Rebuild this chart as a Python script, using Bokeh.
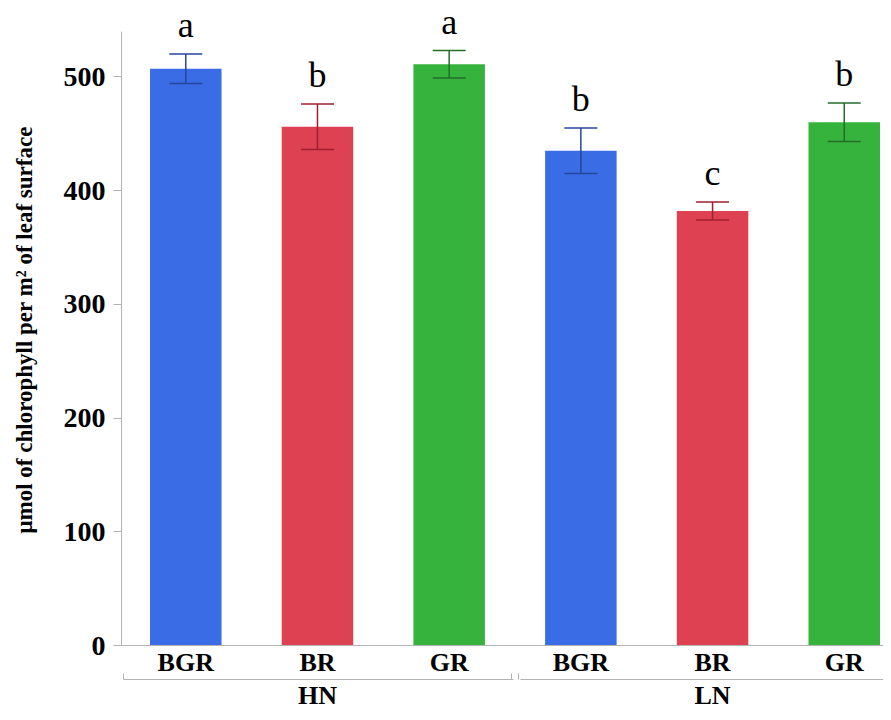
from bokeh.plotting import figure
from bokeh.models import ColumnDataSource, FixedTicker, LinearAxis, Range1d
from bokeh.core.properties import value
from bokeh.embed import file_html
from bokeh.resources import INLINE

# ---- data ----
groups = ["HN", "LN"]
treatments = ["BGR", "BR", "GR", "BGR", "BR", "GR"]
means = [507, 456, 511, 435, 382, 460]
errors = [13, 20, 12, 20, 8, 17]
letters = ["a", "b", "a", "b", "c", "b"]
bar_colors = ["#3a6de5", "#dd4152", "#36b33c", "#3a6de5", "#dd4152", "#36b33c"]
err_colors = ["#26469c", "#a01f30", "#246d2b", "#26469c", "#a01f30", "#246d2b"]
y_ticks = [0, 100, 200, 300, 400, 500]

xs = list(range(len(treatments)))
group_centers = [1, 4]

src = ColumnDataSource(dict(
    x=xs, top=means,
    lo=[m - e for m, e in zip(means, errors)],
    hi=[m + e for m, e in zip(means, errors)],
    letter=letters, color=bar_colors, ecolor=err_colors,
))

SERIF = "Liberation Serif"
AX = "#b3b3b3"

p = figure(width=883, height=712, output_backend="svg", toolbar_location=None,
           x_range=Range1d(-0.488, 5.298), y_range=Range1d(0, 560),
           min_border_left=121, min_border_top=8, min_border_right=0,
           min_border_bottom=60)
p.outline_line_color = None
p.xgrid.visible = False
p.ygrid.visible = False
p.background_fill_color = "white"
p.border_fill_color = "white"

p.vbar(x="x", top="top", bottom=0, width=0.543, color="color", line_color=None, source=src)
p.segment(x0="x", y0="lo", x1="x", y1="hi", line_color="ecolor", line_width=1.5, source=src)
p.scatter(x="x", y="hi", marker="dash", size=33, line_color="ecolor", line_width=1.5, source=src)
p.scatter(x="x", y="lo", marker="dash", size=33, line_color="ecolor", line_width=1.5, source=src)
p.text(x="x", y="hi", text="letter", source=src, text_align="center",
       text_baseline="alphabetic", y_offset=-29,
       text_font=value(SERIF), text_font_size="36px", text_color="black")

# y axis
ya = p.yaxis[0]
ya.ticker = FixedTicker(ticks=y_ticks, minor_ticks=[])
ya.bounds = (0, 540)
ya.axis_line_color = AX
ya.major_tick_line_color = AX
ya.major_tick_out = 8
ya.major_tick_in = 0
ya.minor_tick_line_color = None
ya.major_label_standoff = 8
ya.major_label_text_font = SERIF
ya.major_label_text_font_style = "bold"
ya.major_label_text_font_size = "28px"
ya.major_label_text_color = "black"
ya.axis_label = "\u03bcmol of chlorophyll  per m\u00b2 of leaf surface"
ya.axis_label_text_font = SERIF
ya.axis_label_text_font_style = "bold"
ya.axis_label_text_font_size = "23px"
ya.axis_label_text_color = "black"
ya.axis_label_standoff = 24

# main x axis (treatments)
xa = p.xaxis[0]
xa.ticker = FixedTicker(ticks=xs, minor_ticks=[])
xa.major_label_overrides = {i: t for i, t in zip(xs, treatments)}
xa.axis_line_color = AX
xa.major_tick_line_color = None
xa.major_tick_out = 0
xa.major_tick_in = 0
xa.minor_tick_line_color = None
xa.major_label_standoff = 2
xa.major_label_text_font = SERIF
xa.major_label_text_font_style = "bold"
xa.major_label_text_font_size = "26px"
xa.major_label_text_color = "black"

# group axis (HN / LN bracket)
ga = LinearAxis(ticker=FixedTicker(ticks=group_centers, minor_ticks=[-0.473, 2.47, 2.53]))
ga.bounds = (-0.473, 5.298)
ga.major_label_overrides = {c: g for c, g in zip(group_centers, groups)}
ga.axis_line_color = AX
ga.axis_line_dash = "390 7 1000"
ga.major_tick_line_color = None
ga.minor_tick_line_color = AX
ga.minor_tick_in = 6
ga.minor_tick_out = 0
ga.major_label_standoff = -5
ga.major_label_text_font = SERIF
ga.major_label_text_font_style = "bold"
ga.major_label_text_font_size = "26px"
ga.major_label_text_color = "black"
p.add_layout(ga, "below")

open("out.html", "w").write(file_html(p, INLINE))
